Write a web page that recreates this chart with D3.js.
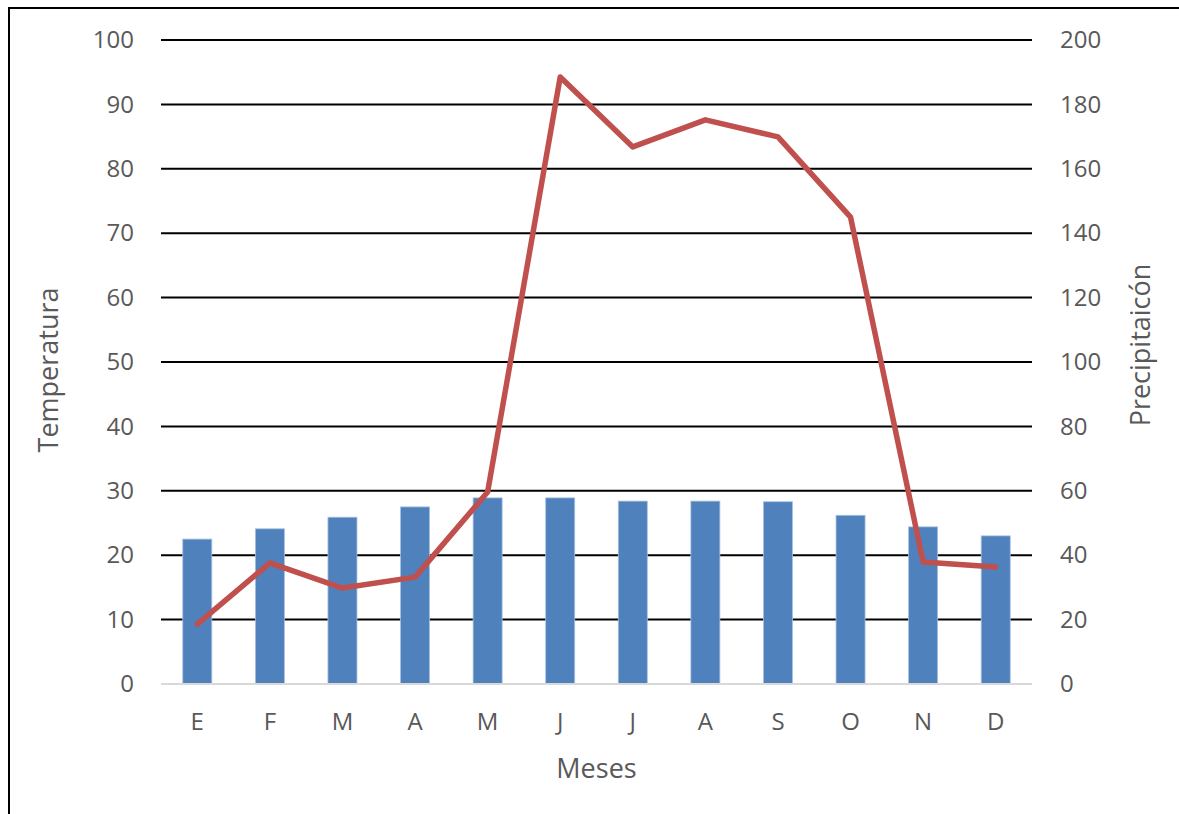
<!DOCTYPE html>
<html>
<head>
<meta charset="utf-8">
<script src="https://cdn.jsdelivr.net/npm/d3@7"></script>
<style>
  html, body { margin: 0; padding: 0; background: #fff; }
  svg { display: block; }
  text { font-family: "Open Sans", "Liberation Sans", sans-serif; fill: #595959; }
</style>
</head>
<body>
<svg id="chart" width="1179" height="814"></svg>
<script>
// Monthly climate data
const months = ["E", "F", "M", "A", "M", "J", "J", "A", "S", "O", "N", "D"];
const temperature = [22.5, 24.1, 25.9, 27.5, 28.9, 28.9, 28.4, 28.4, 28.3, 26.2, 24.4, 23.0];
const precipitation = [18.6, 37.6, 29.8, 33.2, 59.6, 188.5, 166.8, 175.2, 169.9, 145.0, 37.9, 36.3];
const tempTicks = [0, 10, 20, 30, 40, 50, 60, 70, 80, 90, 100];
const precTicks = [0, 20, 40, 60, 80, 100, 120, 140, 160, 180, 200];

const svg = d3.select("#chart");
const plot = { left: 161, right: 1032, top: 40, bottom: 684 };
const tickFont = 24;

// Outer frame
svg.append("rect")
  .attr("x", 9).attr("y", 8)
  .attr("width", 1200).attr("height", 900)
  .attr("fill", "none").attr("stroke", "#000").attr("stroke-width", 2);

const x = d3.scaleBand()
  .domain(d3.range(months.length))
  .range([plot.left, plot.right])
  .paddingInner(0.6).paddingOuter(0.3);

const yT = d3.scaleLinear().domain([0, 100]).range([plot.bottom, plot.top]);
const yP = d3.scaleLinear().domain([0, 200]).range([plot.bottom, plot.top]);

// Horizontal gridlines
svg.append("g")
  .selectAll("line")
  .data(tempTicks.filter(d => d > 0))
  .join("line")
  .attr("x1", plot.left).attr("x2", plot.right)
  .attr("y1", d => yT(d)).attr("y2", d => yT(d))
  .attr("stroke", "#000").attr("stroke-width", 2);

// Temperature bars
svg.append("g")
  .selectAll("rect")
  .data(temperature)
  .join("rect")
  .attr("x", (d, i) => x(i))
  .attr("width", x.bandwidth())
  .attr("y", d => yT(d))
  .attr("height", d => yT(0) - yT(d))
  .attr("fill", "#4f81bd")
  .attr("stroke", "#a9c1e0").attr("stroke-width", 0.8);

// Baseline
svg.append("line")
  .attr("x1", plot.left).attr("x2", plot.right)
  .attr("y1", plot.bottom).attr("y2", plot.bottom)
  .attr("stroke", "#d9d9d9").attr("stroke-width", 2);

// Precipitation line
const line = d3.line()
  .x((d, i) => x(i) + x.bandwidth() / 2)
  .y(d => yP(d));
svg.append("path")
  .datum(precipitation)
  .attr("d", line)
  .attr("fill", "none")
  .attr("stroke", "#c0504d")
  .attr("stroke-width", 5.5)
  .attr("stroke-linejoin", "round")
  .attr("stroke-linecap", "round");

function styleTicks(g) {
  g.select(".domain").remove();
  g.selectAll("text")
    .attr("font-size", tickFont)
    .attr("fill", "#595959")
    .style("font-family", "'Open Sans', sans-serif");
}

// Left axis labels
svg.append("g")
  .attr("transform", `translate(${plot.left},0)`)
  .call(d3.axisLeft(yT).tickValues(tempTicks).tickSize(0).tickPadding(27))
  .call(styleTicks);

// Right axis labels
svg.append("g")
  .attr("transform", `translate(${plot.right},0)`)
  .call(d3.axisRight(yP).tickValues(precTicks).tickSize(0).tickPadding(28))
  .call(styleTicks);

// Month labels
svg.append("g")
  .attr("transform", `translate(0,${plot.bottom})`)
  .call(d3.axisBottom(x).tickFormat(i => months[i]).tickSize(0).tickPadding(29))
  .call(styleTicks);

// Axis titles
svg.append("text")
  .attr("x", (plot.left + plot.right) / 2).attr("y", 778)
  .attr("text-anchor", "middle").attr("font-size", 27)
  .text("Meses");

svg.append("text")
  .attr("transform", "translate(58,370) rotate(-90)")
  .attr("text-anchor", "middle").attr("font-size", 27)
  .text("Temperatura");

svg.append("text")
  .attr("transform", "translate(1150,345) rotate(-90)")
  .attr("text-anchor", "middle").attr("font-size", 27)
  .text("Precipitaicón");
</script>
</body>
</html>
